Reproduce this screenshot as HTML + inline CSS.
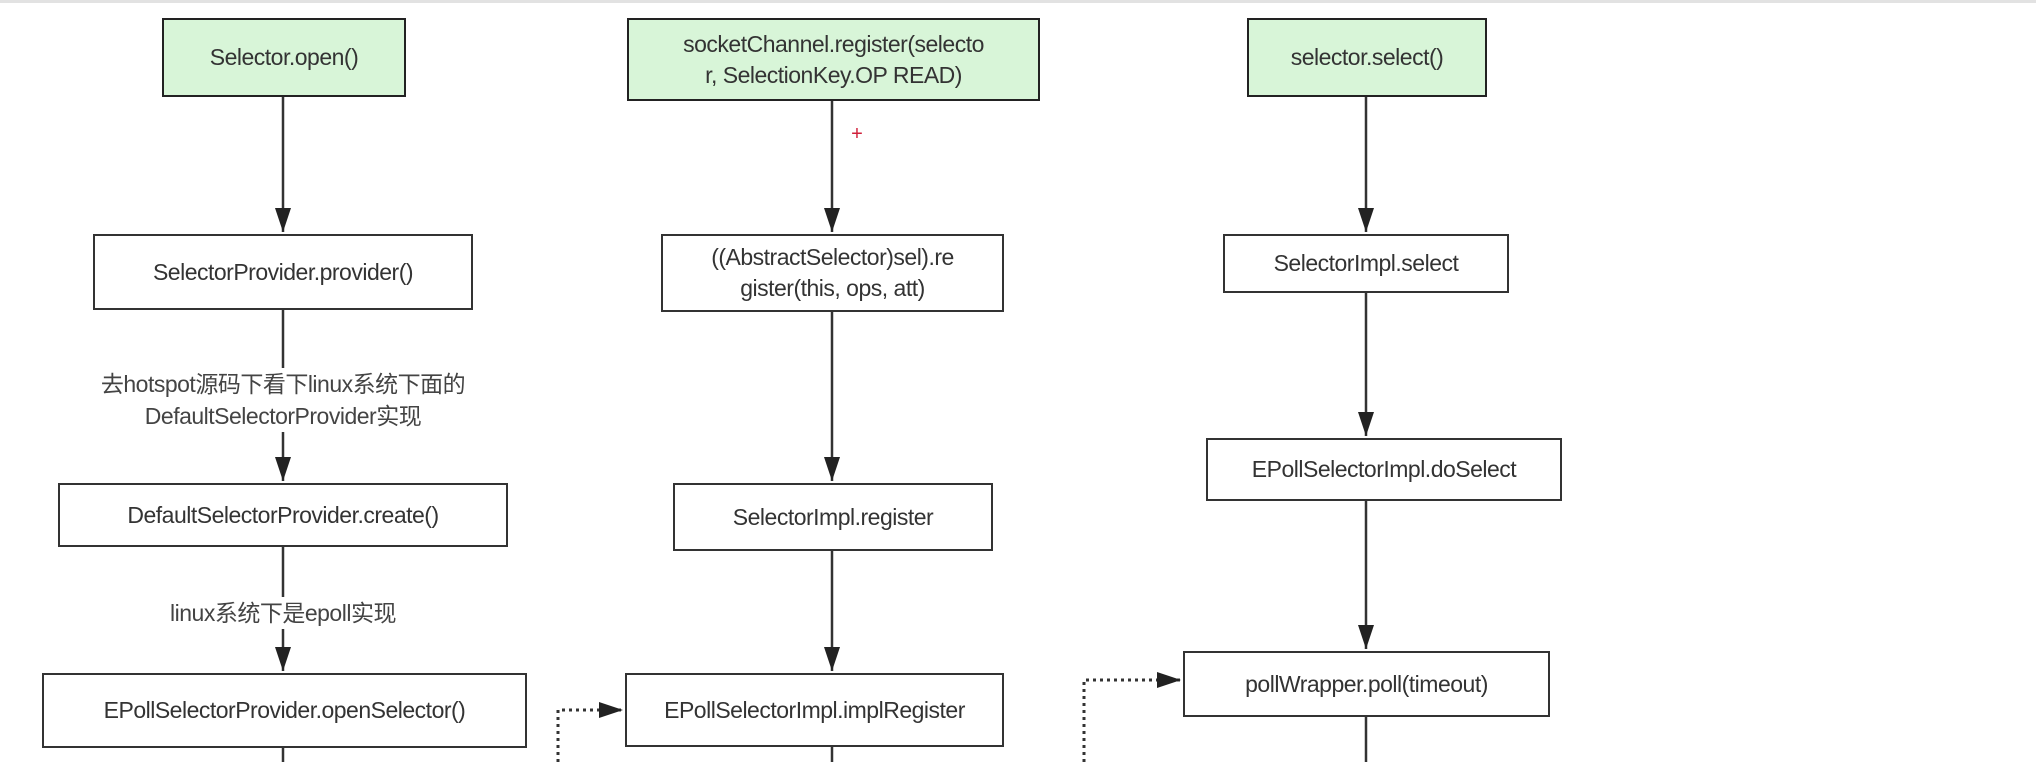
<!DOCTYPE html>
<html><head><meta charset="utf-8"><style>
body{margin:0;width:2036px;height:762px;background:#fff;overflow:hidden;position:relative;font-family:"Liberation Sans","Noto Sans CJK SC",sans-serif;}
.b{position:absolute;box-sizing:border-box;border:2px solid #333;background:#fff;display:flex;align-items:center;justify-content:center;text-align:center;font-size:23px;color:#333;line-height:31px;letter-spacing:-0.5px}
.g{background:#d8f5d8;border-color:#222}
.l{position:absolute;font-size:23px;color:#444;text-align:center;background:#fff;line-height:32px;letter-spacing:-0.5px}
svg{position:absolute;left:0;top:0}
</style></head><body>
<div style="position:absolute;left:0;top:0;width:2036px;height:3px;background:#e2e2e2"></div>
<svg width="2036" height="762">
<defs><marker id="a" markerWidth="24" markerHeight="16" refX="24" refY="8" orient="auto" markerUnits="userSpaceOnUse"><path d="M0,0 L24,8 L0,16z" fill="#222"/></marker></defs>
<g stroke="#333" stroke-width="2.5" fill="none">
<line x1="283" y1="97" x2="283" y2="232" marker-end="url(#a)"/>
<line x1="283" y1="310" x2="283" y2="481" marker-end="url(#a)"/>
<line x1="283" y1="547" x2="283" y2="671" marker-end="url(#a)"/>
<line x1="283" y1="748" x2="283" y2="762"/>
<line x1="832" y1="101" x2="832" y2="232" marker-end="url(#a)"/>
<line x1="832" y1="312" x2="832" y2="481" marker-end="url(#a)"/>
<line x1="832" y1="551" x2="832" y2="671" marker-end="url(#a)"/>
<line x1="832" y1="747" x2="832" y2="762"/>
<line x1="1366" y1="97" x2="1366" y2="232" marker-end="url(#a)"/>
<line x1="1366" y1="293" x2="1366" y2="436" marker-end="url(#a)"/>
<line x1="1366" y1="501" x2="1366" y2="649" marker-end="url(#a)"/>
<line x1="1366" y1="717" x2="1366" y2="762"/>
<g stroke-dasharray="3,4" stroke-width="3">
<polyline points="558,762 558,710 623,710" marker-end="url(#a)"/>
<polyline points="1084,762 1084,680 1181,680" marker-end="url(#a)"/>
</g>
</g>
<text x="857" y="140" fill="#d0203a" font-size="20" text-anchor="middle" font-family="Liberation Sans">+</text>
</svg>
<div class="b g" style="left:162px;top:18px;width:244px;height:79px">Selector.open()</div>
<div class="b g" style="left:627px;top:18px;width:413px;height:83px">socketChannel.register(selecto<br>r, SelectionKey.OP READ)</div>
<div class="b g" style="left:1247px;top:18px;width:240px;height:79px">selector.select()</div>
<div class="b" style="left:93px;top:234px;width:380px;height:76px">SelectorProvider.provider()</div>
<div class="b" style="left:661px;top:234px;width:343px;height:78px">((AbstractSelector)sel).re<br>gister(this, ops, att)</div>
<div class="b" style="left:1223px;top:234px;width:286px;height:59px">SelectorImpl.select</div>
<div class="l" style="left:50px;top:368px;width:466px">去hotspot源码下看下linux系统下面的<br>DefaultSelectorProvider实现</div>
<div class="b" style="left:58px;top:483px;width:450px;height:64px">DefaultSelectorProvider.create()</div>
<div class="b" style="left:673px;top:483px;width:320px;height:68px">SelectorImpl.register</div>
<div class="b" style="left:1206px;top:438px;width:356px;height:63px">EPollSelectorImpl.doSelect</div>
<div class="l" style="left:140px;top:597px;width:286px">linux系统下是epoll实现</div>
<div class="b" style="left:42px;top:673px;width:485px;height:75px">EPollSelectorProvider.openSelector()</div>
<div class="b" style="left:625px;top:673px;width:379px;height:74px">EPollSelectorImpl.implRegister</div>
<div class="b" style="left:1183px;top:651px;width:367px;height:66px">pollWrapper.poll(timeout)</div>
</body></html>
